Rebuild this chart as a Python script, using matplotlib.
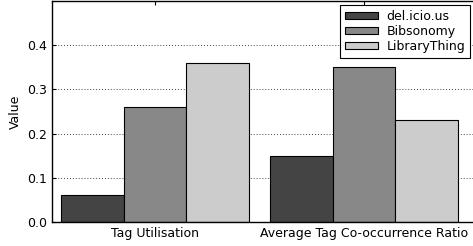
import numpy as np
import matplotlib
matplotlib.use("Agg")
import matplotlib.pyplot as plt

categories = ["Tag Utilisation", "Average Tag Co-occurrence Ratio"]
series = ["del.icio.us", "Bibsonomy", "LibraryThing"]
delicious = [0.06, 0.15]
bibsonomy = [0.26, 0.35]
librarything = [0.36, 0.23]
colors = ["#444444", "#888888", "#cccccc"]

fig = plt.figure(figsize=(4.73, 2.46), dpi=100)
# axes runs a little past the right edge, like the original crop
ax = fig.add_axes([52 / 473, 24 / 246, 425 / 473, 221 / 246])

x = np.arange(len(categories))
w = 0.3
for i, (vals, name) in enumerate(zip([delicious, bibsonomy, librarything], series)):
    ax.bar(x + (i - 1) * w, vals, w, color=colors[i], edgecolor="black",
           linewidth=0.8, label=name)

ax.set_xlim(-0.493, 1.54)
ax.set_ylim(0, 0.5)
ax.set_yticks([0.0, 0.1, 0.2, 0.3, 0.4])
ax.set_xticks(x)
ax.set_xticklabels(categories, fontsize=9)
ax.tick_params(axis="y", labelsize=9)
ax.tick_params(direction="in", top=True, right=False, length=3)
ax.yaxis.grid(True, linestyle=(0, (1, 2.5)), color="black", linewidth=0.6)
ax.set_axisbelow(True)
ax.set_ylabel("Value", fontsize=9)
for s in ax.spines.values():
    s.set_linewidth(1.0)
ax.spines["right"].set_visible(False)

leg = ax.legend(loc="upper right", bbox_to_anchor=(470 / 473, 1 - 5 / 246),
                bbox_transform=fig.transFigure, borderaxespad=0,
                fontsize=9, fancybox=False, framealpha=1,
                edgecolor="black", handlelength=2.6, handleheight=0.5,
                labelspacing=0.15, borderpad=0.4, handletextpad=0.7)
leg.get_frame().set_linewidth(0.8)

fig.savefig("out.png", dpi=100)
